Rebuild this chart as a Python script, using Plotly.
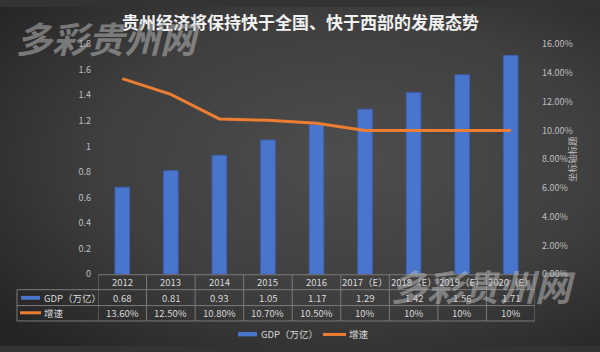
import base64
import plotly.graph_objects as go

# ---- data ----
categories = ["2012", "2013", "2014", "2015", "2016",
              "2017（E）", "2018（E）", "2019（E）", "2020（E）"]
gdp = [0.68, 0.81, 0.93, 1.05, 1.17, 1.29, 1.42, 1.56, 1.71]
growth_pct = [13.6, 12.5, 10.8, 10.7, 10.5, 10, 10, 10, 10]
growth_labels = ["13.60%", "12.50%", "10.80%", "10.70%", "10.50%",
                 "10%", "10%", "10%", "10%"]
series_gdp = "GDP（万亿）"
series_growth = "增速"
title_text = "贵州经济将保持快于全国、快于西部的发展态势"
watermark = "多彩贵州网"
right_axis_title = "坐标轴标题"

W, H = 600, 352
FONT = "Noto Sans CJK SC, Noto Sans, sans-serif"
BLUE = "#4a75cd"
ORANGE = "#ED7D31"
TXT = "#d9d9d9"
GRID = "#7a7a7a"


def px(x):
    return x / W


def py(y):
    return 1 - y / H


# background radial gradient as svg image
svg = f'''<svg xmlns="http://www.w3.org/2000/svg" width="{W}" height="{H}" viewBox="0 0 {W} {H}" preserveAspectRatio="none">
<defs><radialGradient id="g" cx="0.58" cy="0.45" r="0.75" gradientUnits="objectBoundingBox">
<stop offset="0" stop-color="#4d4d4d"/><stop offset="0.55" stop-color="#3f3f3f"/><stop offset="1" stop-color="#242424"/>
</radialGradient></defs><rect width="{W}" height="{H}" fill="url(#g)"/></svg>'''
bg_uri = "data:image/svg+xml;base64," + base64.b64encode(svg.encode()).decode()

fig = go.Figure()
fig.add_trace(go.Bar(
    x=categories, y=gdp, name=series_gdp, width=0.3,
    marker=dict(color=BLUE, line=dict(color="#3b62b5", width=1)),
    yaxis="y", showlegend=False,
))
fig.add_trace(go.Scatter(
    x=categories, y=[g / 100 for g in growth_pct], name=series_growth,
    mode="lines", line=dict(color=ORANGE, width=3),
    yaxis="y2", showlegend=False,
))

y_bottom, y_top = 277.5, 38.5
fig.update_layout(
    width=W, height=H,
    margin=dict(l=0, r=0, t=0, b=0),
    paper_bgcolor="#333333",
    plot_bgcolor="rgba(0,0,0,0)",
    font=dict(family=FONT, color=TXT),
    showlegend=False,
    xaxis=dict(
        type="category", range=[-0.5, 8.5],
        domain=[px(98), px(535)],
        showticklabels=False, showgrid=False, zeroline=False, showline=False,
        ticks="",
    ),
    yaxis=dict(
        range=[0, 1.8], dtick=0.2, domain=[py(y_bottom), py(y_top)],
        showgrid=False, zeroline=False, showline=False, ticks="",
        tickfont=dict(size=9, color="#bfbfbf", family=FONT),
        ticklabelstandoff=6,
    ),
    yaxis2=dict(
        range=[0, 0.16], dtick=0.02, tickformat=".2%", overlaying="y",
        side="right", showgrid=False, zeroline=False, showline=False, ticks="",
        tickfont=dict(size=9, color="#bfbfbf", family=FONT),
        ticklabelstandoff=6,
    ),
    images=[dict(source=bg_uri, xref="paper", yref="paper", x=0, y=1,
                 sizex=1, sizey=1, sizing="stretch", layer="below")],
)

shapes = []
annotations = []

# title
annotations.append(dict(text=f"<b>{title_text}</b>", x=px(300), y=py(15), xref="paper", yref="paper",
                        showarrow=False, font=dict(size=17, color="#f2f2f2", family=FONT),
                        xanchor="center", yanchor="middle"))

# right axis title
annotations.append(dict(text=right_axis_title, x=px(581), y=py(158), xref="paper", yref="paper",
                        showarrow=False, textangle=-90,
                        font=dict(size=9, color="#bfbfbf", family=FONT)))

# data table
row_lines = [278, 293.5, 310, 326]
for i, yl in enumerate(row_lines):
    x0 = 98 if i == 0 else 17
    shapes.append(dict(type="line", xref="paper", yref="paper",
                       x0=px(x0), x1=px(535), y0=py(yl), y1=py(yl),
                       line=dict(color=GRID, width=1)))
for k in range(len(categories) + 1):
    shapes.append(dict(type="line", xref="x", yref="paper",
                       x0=k - 0.5, x1=k - 0.5, y0=py(278), y1=py(326),
                       line=dict(color=GRID, width=1)))
shapes.append(dict(type="line", xref="paper", yref="paper",
                   x0=px(17), x1=px(17), y0=py(293.5), y1=py(326),
                   line=dict(color=GRID, width=1)))

row_centers = [286, 302, 318]
for i, cat in enumerate(categories):
    for yc, txt in zip(row_centers, [cat, f"{gdp[i]:.2f}", growth_labels[i]]):
        annotations.append(dict(text=txt, x=i, xref="x", y=py(yc), yref="paper",
                                showarrow=False, xanchor="center", yanchor="middle",
                                font=dict(size=9.5, color=TXT, family=FONT)))

# legend keys inside table
shapes.append(dict(type="rect", xref="paper", yref="paper",
                   x0=px(21), x1=px(40), y0=py(304), y1=py(300),
                   fillcolor=BLUE, line=dict(width=0)))
shapes.append(dict(type="line", xref="paper", yref="paper",
                   x0=px(20), x1=px(41), y0=py(317.5), y1=py(317.5),
                   line=dict(color=ORANGE, width=3)))
annotations.append(dict(text=series_gdp, x=px(42), y=py(302), xref="paper", yref="paper",
                        showarrow=False, xanchor="left", yanchor="middle",
                        font=dict(size=9.5, color=TXT, family=FONT)))
annotations.append(dict(text=series_growth, x=px(42), y=py(318), xref="paper", yref="paper",
                        showarrow=False, xanchor="left", yanchor="middle",
                        font=dict(size=9.5, color=TXT, family=FONT)))

# bottom legend
shapes.append(dict(type="rect", xref="paper", yref="paper",
                   x0=px(238), x1=px(257), y0=py(342), y1=py(337.5),
                   fillcolor=BLUE, line=dict(width=0)))
annotations.append(dict(text=series_gdp, x=px(259), y=py(340), xref="paper", yref="paper",
                        showarrow=False, xanchor="left", yanchor="middle",
                        font=dict(size=9.5, color=TXT, family=FONT)))
shapes.append(dict(type="line", xref="paper", yref="paper",
                   x0=px(323), x1=px(346), y0=py(340), y1=py(340),
                   line=dict(color=ORANGE, width=3)))
annotations.append(dict(text=series_growth, x=px(347), y=py(340), xref="paper", yref="paper",
                        showarrow=False, xanchor="left", yanchor="middle",
                        font=dict(size=9.5, color=TXT, family=FONT)))

# watermarks
for (cx, cy) in [(108, 31), (483, 289)]:
    annotations.append(dict(text=f"<b><i>{watermark}</i></b>", x=px(cx), y=py(cy),
                            xref="paper", yref="paper", showarrow=False,
                            xanchor="center", yanchor="middle",
                            font=dict(size=36, color="rgba(185,185,185,0.55)", family=FONT)))

fig.update_layout(shapes=shapes, annotations=annotations)
fig.write_html("out.html")
